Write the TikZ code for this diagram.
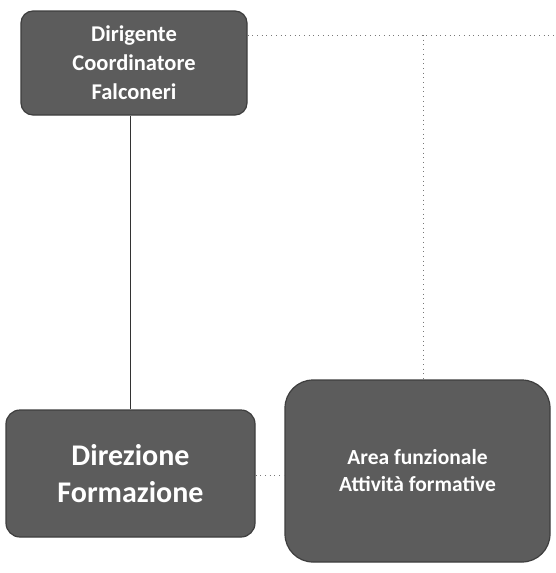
\documentclass[tikz,border=0pt]{standalone}
\usepackage{fontspec}
\setmainfont{Carlito}
\usepackage{tikz}
\usetikzlibrary{positioning,calc}
\definecolor{slate}{RGB}{92,92,92}
\definecolor{slateedge}{RGB}{62,62,62}
\definecolor{dotgray}{RGB}{120,120,120}
\tikzset{
  unit/.style={draw=slateedge,line width=1.2pt,fill=slate,text=white,
    font=\bfseries,align=center,inner sep=0pt},
  link/.style={thin,black!80},
  dotlink/.style={dotgray,line width=0.7pt,dash pattern=on 0.7pt off 4pt}
}
\begin{document}
\begin{tikzpicture}[x=1pt,y=-1pt]
  \useasboundingbox (0,0) rectangle (556,573);
  \node[unit,rounded corners=12pt,minimum width=226pt,minimum height=104pt,
    font=\bfseries\fontsize{22.5}{29}\selectfont] (dirigente) at (134,63)
    {Dirigente\\Coordinatore\\Falconeri};
  \node[unit,rounded corners=14pt,minimum width=249pt,minimum height=127pt,
    font=\bfseries\fontsize{30}{37}\selectfont] (direzione) at (130.5,473.5)
    {Direzione\\Formazione};
  \node[unit,rounded corners=28pt,minimum width=265pt,minimum height=182pt,
    font=\bfseries\fontsize{21.5}{27}\selectfont] (area) at (417.5,471)
    {Area funzionale\\Attività formative};
  \coordinate (rim) at (556,35);
  \coordinate (split) at (423,35);
  \draw[link] (dirigente.south -| 130,0) -- (direzione.north -| 130,0);
  \draw[dotlink] (dirigente.east |- rim) -- (rim);
  \draw[dotlink] (split) -- (split |- area.north);
  \draw[dotlink] (direzione.east |- 0,475) -- (area.west |- 0,475);
\end{tikzpicture}
\end{document}
